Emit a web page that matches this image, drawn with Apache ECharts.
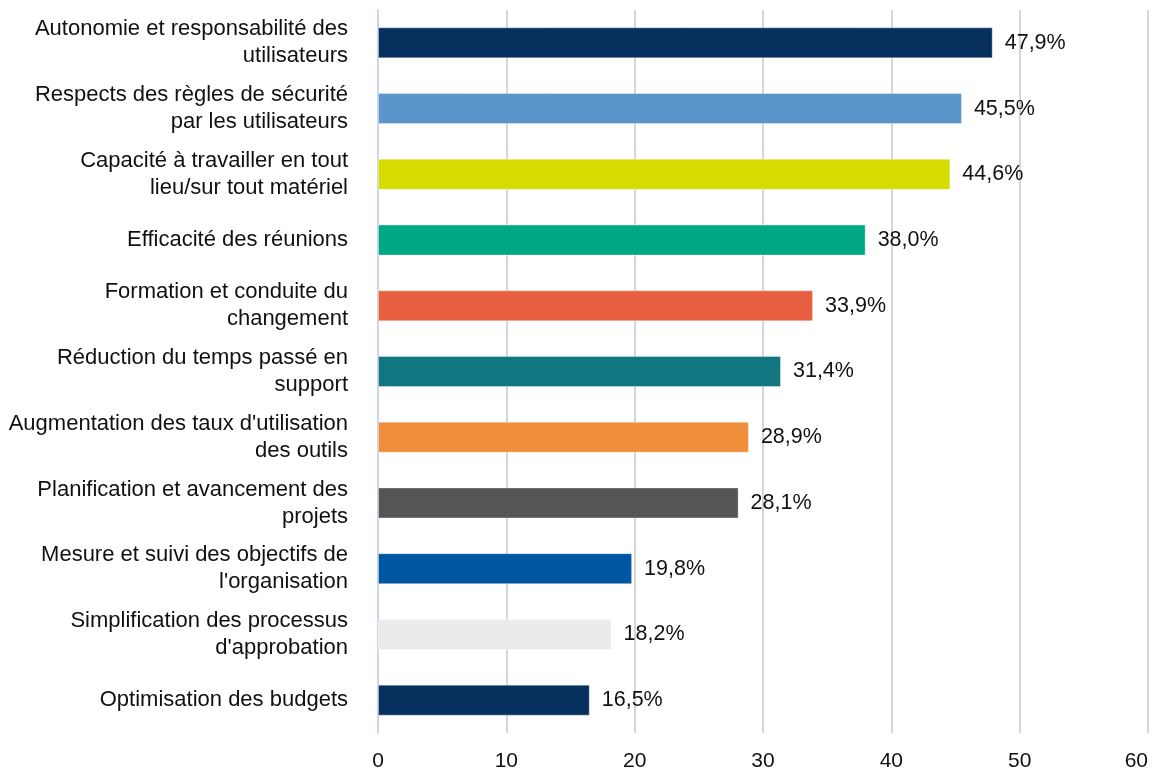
<!DOCTYPE html>
<html>
<head>
<meta charset="utf-8">
<script src="https://cdn.jsdelivr.net/npm/echarts@6/dist/echarts.min.js"></script>
<style>
  html, body { margin: 0; padding: 0; background: #fff; }
  #chart { width: 1153px; height: 774px; }
</style>
</head>
<body>
<div id="chart"></div>
<script>
  const categories = [
    'Autonomie et responsabilité des\nutilisateurs',
    'Respects des règles de sécurité\npar les utilisateurs',
    'Capacité à travailler en tout\nlieu/sur tout matériel',
    'Efficacité des réunions',
    'Formation et conduite du\nchangement',
    'Réduction du temps passé en\nsupport',
    "Augmentation des taux d'utilisation\ndes outils",
    'Planification et avancement des\nprojets',
    "Mesure et suivi des objectifs de\nl'organisation",
    "Simplification des processus\nd'approbation",
    'Optimisation des budgets'
  ];
  const values = [47.9, 45.5, 44.6, 38.0, 33.9, 31.4, 28.9, 28.1, 19.8, 18.2, 16.5];
  const barColors = ['#06305e', '#5b94cb', '#d7db00', '#00a884', '#e85f40', '#127680',
                     '#f08e3c', '#555555', '#0057a1', '#ebebeb', '#06305e'];
  const xTicks = [0, 10, 20, 30, 40, 50, 60];

  const chart = echarts.init(document.getElementById('chart'));
  chart.setOption({
    animation: false,
    textStyle: { fontFamily: 'Liberation Sans, Arial, sans-serif' },
    grid: { left: 378, right: 5, top: 10, bottom: 41, containLabel: false, outerBoundsMode: 'none' },
    xAxis: {
      type: 'value',
      min: xTicks[0],
      max: xTicks[xTicks.length - 1],
      interval: 10,
      axisLine: { show: false },
      axisTick: { show: false },
      axisLabel: { color: '#111', fontSize: 21, margin: 18, alignMaxLabel: 'right' },
      splitLine: { show: true, lineStyle: { color: '#d6d6d6', width: 2 } }
    },
    yAxis: {
      type: 'category',
      inverse: true,
      data: categories,
      axisLine: { show: true, lineStyle: { color: '#ccd6ec', width: 2 } },
      axisTick: { show: false },
      axisLabel: {
        color: '#111', fontSize: 22, lineHeight: 27, margin: 30, align: 'right'
      }
    },
    series: [{
      type: 'bar',
      barWidth: 31,
      data: values.map((v, i) => ({
        value: v,
        itemStyle: { color: barColors[i], borderColor: 'rgba(255,255,255,0.35)', borderWidth: 1 }
      })),
      label: {
        show: true,
        position: 'right',
        distance: 12,
        color: '#111',
        fontSize: 21.5,
        formatter: p => p.value.toFixed(1).replace('.', ',') + '%'
      }
    }]
  });
</script>
</body>
</html>
